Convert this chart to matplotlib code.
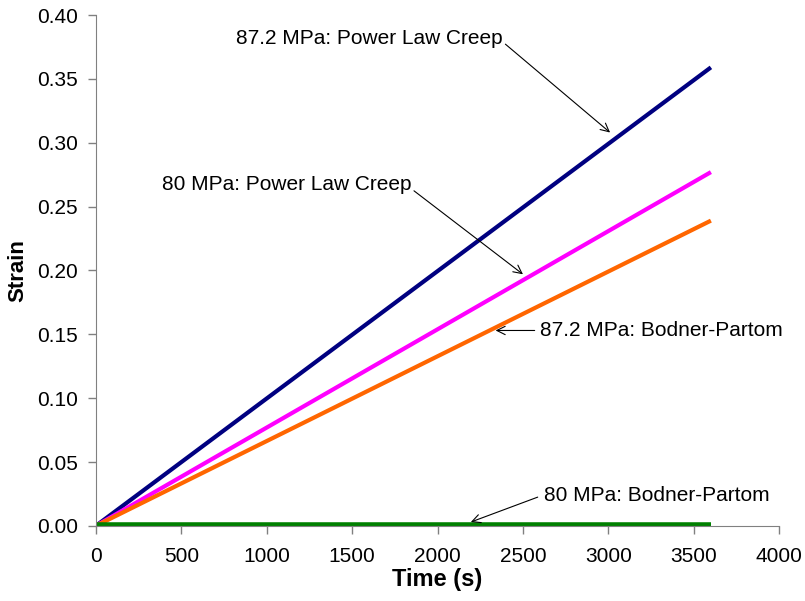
import numpy as np
import matplotlib.pyplot as plt

plt.rcParams['font.family'] = ['Liberation Sans', 'DejaVu Sans']

# data
time_s = [0, 3600]
strain_872_plc = [0.0, 0.359]
strain_80_plc = [0.0, 0.277]
strain_872_bp = [0.0, 0.239]
strain_80_bp = [0.001, 0.001]

x_ticks = [0, 500, 1000, 1500, 2000, 2500, 3000, 3500, 4000]
y_ticks = [0.0, 0.05, 0.10, 0.15, 0.20, 0.25, 0.30, 0.35, 0.40]

fig = plt.figure(figsize=(8.05, 6.01), dpi=100)
ax = fig.add_axes([0.119, 0.125, 0.849, 0.85])

ax.plot(time_s, strain_872_plc, color='#000080', lw=3, solid_capstyle='butt')
ax.plot(time_s, strain_80_plc, color='#FF00FF', lw=3, solid_capstyle='butt')
ax.plot(time_s, strain_872_bp, color='#FF6600', lw=3, solid_capstyle='butt')
ax.plot(time_s, strain_80_bp, color='#008000', lw=4, solid_capstyle='butt')

ax.set_xlim(0, 4000)
ax.set_ylim(0, 0.4)
ax.set_xticks(x_ticks)
ax.set_yticks(y_ticks)
ax.set_yticklabels([f'{v:.2f}' for v in y_ticks])
ax.tick_params(labelsize=15, direction='out', length=6, color='#808080', width=1)
ax.tick_params(axis='x', pad=9)
ax.tick_params(axis='y', pad=7)

for s in ['top', 'right']:
    ax.spines[s].set_visible(False)
for s in ['left', 'bottom']:
    ax.spines[s].set_color('#808080')

ax.set_xlabel('Time (s)', fontsize=17, fontweight='bold', labelpad=2)
ax.set_ylabel('Strain', fontsize=16, fontweight='bold', labelpad=6)

arrow = dict(arrowstyle='->', color='black', lw=0.8, shrinkA=0, shrinkB=0)
ax.annotate('87.2 MPa: Power Law Creep', xy=(3010, 0.308), xytext=(2381, 0.382),
            fontsize=15, ha='right', va='center',
            arrowprops=dict(arrow, relpos=(1.0, 0.3)))
ax.annotate('80 MPa: Power Law Creep', xy=(2500, 0.197), xytext=(1846, 0.267),
            fontsize=15, ha='right', va='center',
            arrowprops=dict(arrow, relpos=(1.0, 0.3)))
ax.annotate('87.2 MPa: Bodner-Partom', xy=(2340, 0.153), xytext=(2597, 0.153),
            fontsize=15, ha='left', va='center',
            arrowprops=dict(arrow, relpos=(-0.02, 0.5)))
ax.annotate('80 MPa: Bodner-Partom', xy=(2195, 0.003), xytext=(2626, 0.024),
            fontsize=15, ha='left', va='center',
            arrowprops=dict(arrow, relpos=(-0.03, 0.4)))

fig.savefig('out.png', dpi=100)
